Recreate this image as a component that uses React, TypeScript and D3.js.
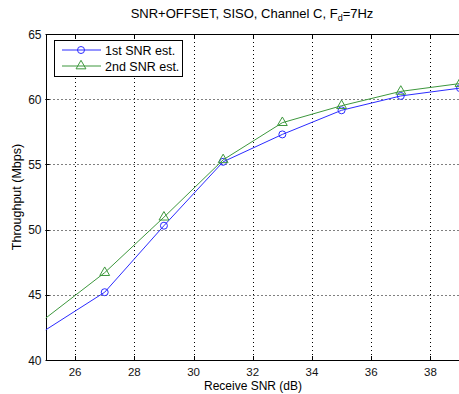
import { useEffect, useRef } from "react";
import * as d3 from "d3";

const snr = [25, 27, 29, 31, 33, 35, 37, 39];
const firstEst = [42.3, 45.2, 50.3, 55.2, 57.3, 59.15, 60.25, 60.85];
const secondEst = [43.2, 46.7, 50.95, 55.35, 58.2, 59.5, 60.6, 61.2];
const xTicks = [26, 28, 30, 32, 34, 36, 38];
const yTicks = [40, 45, 50, 55, 60, 65];

export default function App() {
    const svgRef = useRef<SVGSVGElement | null>(null);

    useEffect(() => {
        if (!svgRef.current) return;
        d3.select(svgRef.current).selectAll("*").remove();

        const width = 459;
        const height = 394;
        const left = 45.5;
        const top = 34;
        const bottom = 360;
        const right = 460;

        const svg = d3
            .select(svgRef.current)
            .attr("width", width)
            .attr("height", height)
            .style("font-family", "Liberation Sans, Arial, sans-serif");

        const x = d3.scaleLinear().domain([25, 39]).range([left, right]);
        const y = d3.scaleLinear().domain([40, 65]).range([bottom, top]);

        svg.append("rect").attr("width", width).attr("height", height).attr("fill", "#fff");

        svg.append("defs")
            .append("clipPath")
            .attr("id", "plot-clip")
            .append("rect")
            .attr("x", left)
            .attr("y", top)
            .attr("width", right - left)
            .attr("height", bottom - top);

        // Grid
        const grid = svg.append("g").attr("stroke", "#000").attr("stroke-width", 1).attr("stroke-dasharray", "1,3");
        xTicks.forEach((t) => {
            grid.append("line")
                .attr("x1", Math.round(x(t)) + 0.5)
                .attr("x2", Math.round(x(t)) + 0.5)
                .attr("y1", top)
                .attr("y2", bottom);
        });
        yTicks.slice(1, -1).forEach((t) => {
            grid.append("line")
                .attr("x1", left)
                .attr("x2", right)
                .attr("y1", Math.round(y(t)) + 0.5)
                .attr("y2", Math.round(y(t)) + 0.5);
        });

        // Axes box
        svg.append("rect")
            .attr("x", Math.round(left) + 0.5)
            .attr("y", top + 0.5)
            .attr("width", right - left)
            .attr("height", bottom - top)
            .attr("fill", "none")
            .attr("stroke", "#000")
            .attr("stroke-width", 1);

        // Ticks (inside)
        const ticks = svg.append("g").attr("stroke", "#000").attr("stroke-width", 1);
        xTicks.forEach((t) => {
            const px = Math.round(x(t)) + 0.5;
            ticks.append("line").attr("x1", px).attr("x2", px).attr("y1", bottom).attr("y2", bottom - 4);
            ticks.append("line").attr("x1", px).attr("x2", px).attr("y1", top).attr("y2", top + 4);
        });
        yTicks.forEach((t) => {
            const py = Math.round(y(t)) + 0.5;
            ticks.append("line").attr("x1", left).attr("x2", left + 4).attr("y1", py).attr("y2", py);
        });

        // Tick labels
        svg.append("g")
            .selectAll("text")
            .data(xTicks)
            .enter()
            .append("text")
            .attr("x", (d) => x(d))
            .attr("y", bottom + 16)
            .attr("text-anchor", "middle")
            .attr("font-size", "11.5px")
            .attr("fill", "#111")
            .text((d) => d);

        svg.append("g")
            .selectAll("text")
            .data(yTicks)
            .enter()
            .append("text")
            .attr("x", left - 4)
            .attr("y", (d) => y(d) + 4.5)
            .attr("text-anchor", "end")
            .attr("font-size", "12px")
            .attr("fill", "#111")
            .text((d) => d);

        // Axis labels and title
        svg.append("text")
            .attr("x", 253)
            .attr("y", 390)
            .attr("text-anchor", "middle")
            .attr("font-size", "12px")
            .text("Receive SNR (dB)");

        svg.append("text")
            .attr("transform", `translate(21,${(top + bottom) / 2}) rotate(-90)`)
            .attr("text-anchor", "middle")
            .attr("font-size", "12.5px")
            .text("Throughput (Mbps)");

        const title = svg.append("text")
            .attr("x", 252)
            .attr("y", 18)
            .attr("text-anchor", "middle")
            .attr("font-size", "13px");
        title.append("tspan").text("SNR+OFFSET, SISO, Channel C, F");
        title.append("tspan").attr("font-size", "9px").attr("dy", 3).text("d");
        title.append("tspan").attr("dy", -3).text("=7Hz");

        // Series
        const series = [
            { name: "1st SNR est.", values: firstEst, color: "#2b2bff", marker: "circle" },
            { name: "2nd SNR est.", values: secondEst, color: "#3d973d", marker: "triangle" },
        ];

        const line = d3
            .line<number>()
            .x((_, i) => x(snr[i]))
            .y((d) => y(d));

        const triangle = d3.symbol().type(d3.symbolTriangle).size(42);

        const plot = svg.append("g").attr("clip-path", "url(#plot-clip)");
        series.forEach((s) => {
            plot.append("path")
                .datum(s.values)
                .attr("d", line)
                .attr("fill", "none")
                .attr("stroke", s.color)
                .attr("stroke-width", 1);

            const pts = s.values.map((v, i) => ({ sx: snr[i], v })).filter((p) => p.sx > 25);
            if (s.marker === "circle") {
                plot.selectAll(null)
                    .data(pts)
                    .enter()
                    .append("circle")
                    .attr("cx", (p) => x(p.sx))
                    .attr("cy", (p) => y(p.v))
                    .attr("r", 3.5)
                    .attr("fill", "none")
                    .attr("stroke", s.color);
            } else {
                plot.selectAll(null)
                    .data(pts)
                    .enter()
                    .append("path")
                    .attr("d", triangle as any)
                    .attr("transform", (p) => `translate(${x(p.sx)},${y(p.v)})`)
                    .attr("fill", "none")
                    .attr("stroke", s.color);
            }
        });

        // Legend
        const legend = svg.append("g");
        legend.append("rect")
            .attr("x", 54.5)
            .attr("y", 40.5)
            .attr("width", 128)
            .attr("height", 36)
            .attr("fill", "#fff")
            .attr("stroke", "#000");
        series.forEach((s, i) => {
            const ly = 50 + i * 16;
            legend.append("line")
                .attr("x1", 62)
                .attr("x2", 101)
                .attr("y1", ly)
                .attr("y2", ly)
                .attr("stroke", s.color);
            if (s.marker === "circle") {
                legend.append("circle")
                    .attr("cx", 81)
                    .attr("cy", ly)
                    .attr("r", 3.5)
                    .attr("fill", "none")
                    .attr("stroke", s.color);
            } else {
                legend.append("path")
                    .attr("d", triangle as any)
                    .attr("transform", `translate(81,${ly})`)
                    .attr("fill", "none")
                    .attr("stroke", s.color);
            }
            legend.append("text")
                .attr("x", 105)
                .attr("y", ly + 4.5)
                .attr("font-size", "12.5px")
                .attr("fill", "#000")
                .text(s.name);
        });
    }, []);

    return <svg ref={svgRef} style={{ position: "absolute", left: 0, top: 0 }} />;
}
